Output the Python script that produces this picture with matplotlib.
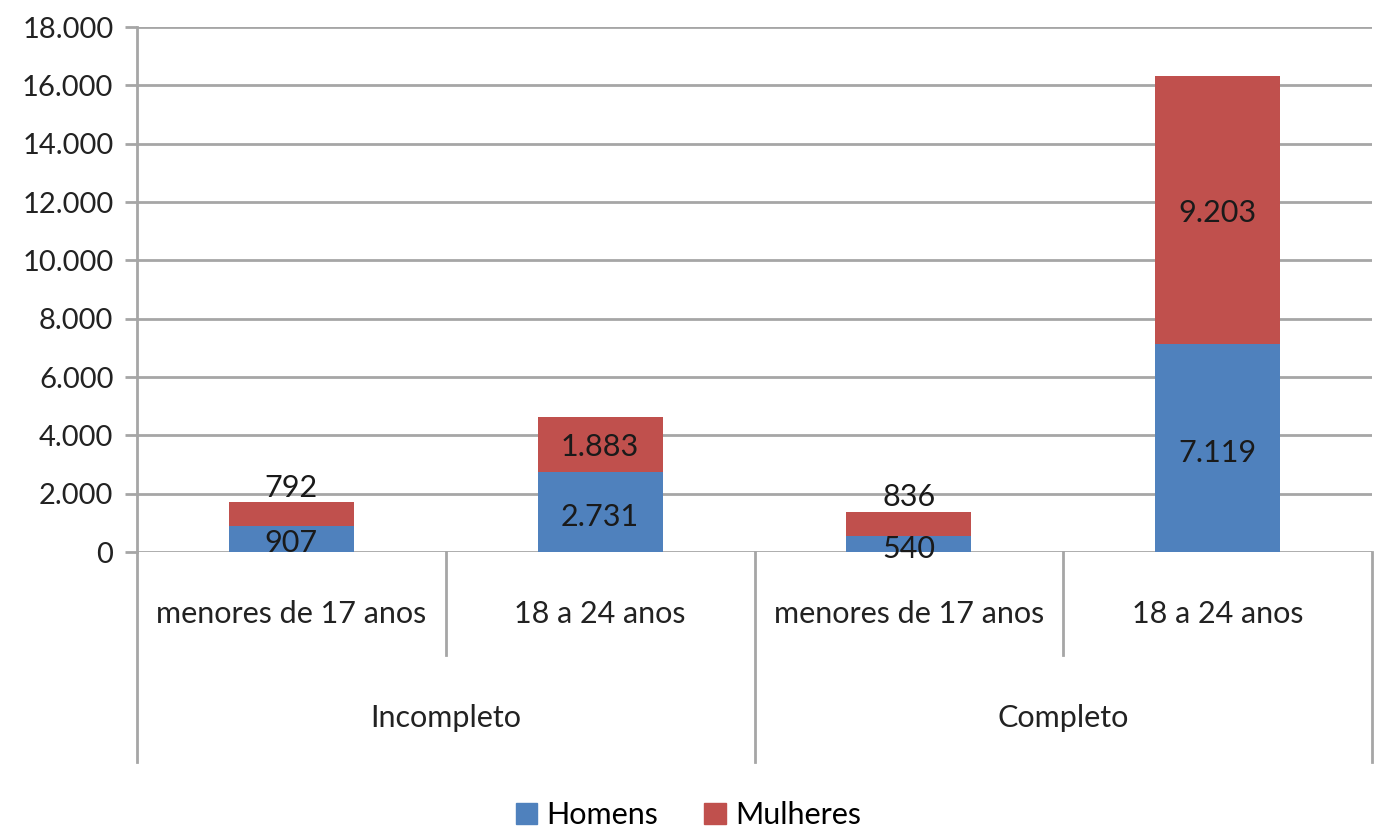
import matplotlib.pyplot as plt
import matplotlib.transforms as mtransforms
from matplotlib.patches import Patch

plt.rcParams['font.family'] = ['Lato', 'DejaVu Sans']

groups = ['Incompleto', 'Completo']
ages = ['menores de 17 anos', '18 a 24 anos', 'menores de 17 anos', '18 a 24 anos']
homens = [907, 2731, 540, 7119]
mulheres = [792, 1883, 836, 9203]
yticks = [0, 2000, 4000, 6000, 8000, 10000, 12000, 14000, 16000, 18000]

blue = '#4F81BD'
red = '#C0504D'
grid = '#A6A6A6'


def fmt(v):
    return f'{v:,}'.replace(',', '.')


fig = plt.figure(figsize=(13.77, 8.31), dpi=100)
ax = fig.add_axes([0.0995, 0.3357, 0.8969, 0.6318])

x = list(range(len(ages)))
ax.bar(x, homens, width=0.405, color=blue, zorder=3)
ax.bar(x, mulheres, width=0.405, bottom=homens, color=red, zorder=3)

for i in x:
    h, m = homens[i], mulheres[i]
    if h + m < 2500:
        yh = h / 2 - 150
        ym = h + m + 500
    else:
        yh = h / 2 - 150
        ym = h + m / 2 - 80
    ax.text(i, yh, fmt(h), ha='center', va='center', fontsize=22, color='#1a1a1a', zorder=4)
    ax.text(i, ym, fmt(m), ha='center', va='center', fontsize=22, color='#1a1a1a', zorder=4)

ax.set_xlim(-0.5, len(ages) - 0.5)
ax.set_ylim(0, 18000)
ax.set_yticks(yticks)
ax.set_yticklabels([fmt(v) for v in yticks], fontsize=21, color='#222222')
ax.set_xticks([])
ax.yaxis.grid(True, color=grid, linewidth=2, zorder=0)
ax.tick_params(axis='y', length=9, width=2, color=grid, pad=8)
for s in ['top', 'right', 'bottom']:
    ax.spines[s].set_visible(False)
ax.spines['left'].set_color(grid)
ax.spines['left'].set_linewidth(2)

# category axis drawn below the plot
tr = mtransforms.blended_transform_factory(ax.transData, ax.transAxes)
deep = -210 / 525
mid = -103 / 525
for i in range(len(ages) + 1):
    xe = i - 0.5
    y1 = deep if i % 2 == 0 else mid
    ax.plot([xe, xe], [0, y1], transform=tr, color=grid, linewidth=2, clip_on=False)
for i, lab in enumerate(ages):
    ax.text(i, -62 / 525, lab, transform=tr, ha='center', va='center', fontsize=22, color='#222222')
for g, name in enumerate(groups):
    ax.text(2 * g + 0.5, -166 / 525, name, transform=tr, ha='center', va='center', fontsize=22, color='#222222')

handles = [Patch(color=blue, label='Homens'), Patch(color=red, label='Mulheres')]
fig.legend(handles=handles, loc='center', bbox_to_anchor=(0.5, 1 - 815 / 831), ncol=2, frameon=False,
           fontsize=22, handlelength=0.7, handleheight=0.7, handletextpad=0.3, columnspacing=1.5)

fig.savefig('out.png', dpi=100)
